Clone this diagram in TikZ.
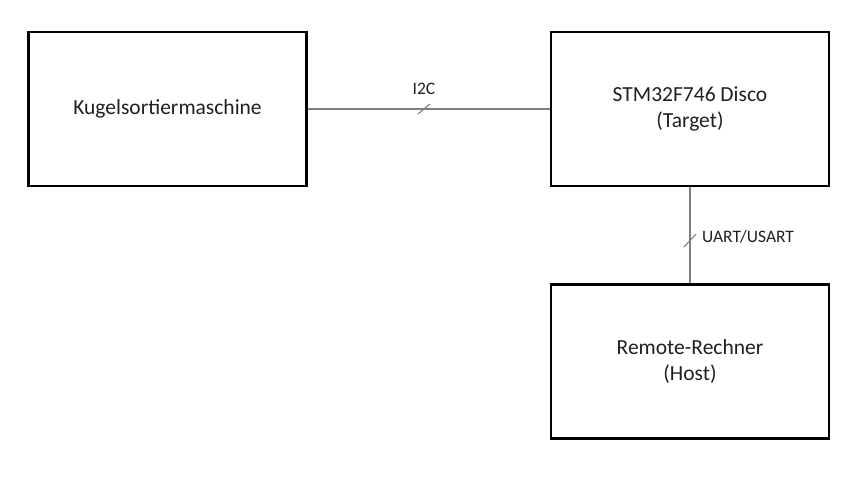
\documentclass[tikz,border=0pt]{standalone}
\usepackage{fontspec}
\setmainfont{Carlito}
\usetikzlibrary{calc}
\definecolor{textgray}{HTML}{202020}
\definecolor{linegray}{HTML}{7F7F7F}
\begin{document}
\begin{tikzpicture}[x=1pt,y=-1pt,
  box/.style={draw=black,line width=2.2pt,minimum width=278pt,minimum height=154pt,inner sep=0pt,align=center,font=\fontsize{21.5}{26.5}\selectfont,text=textgray},
  link/.style={draw=linegray,line width=1.6pt},
  slashmark/.style={draw=linegray,line width=1.1pt},
  lbl/.style={font=\fontsize{17.5}{21}\selectfont,text=textgray,inner sep=0pt}]
\useasboundingbox[fill=white] (0,0) rectangle (864,486);
\node[box] (kug) at (167.5,109) {Kugelsortiermaschine};
\node[box] (stm) at (690,109) {STM32F746 Disco\\(Target)};
\node[box] (host) at (690,361.5) {Remote-Rechner\\(Host)};
\draw[link] (kug.east) -- coordinate[pos=0.48] (m1) (stm.west);
\draw[link] (stm.south) -- coordinate[pos=0.56] (m2) (host.north);
\draw[slashmark] ($(m1)+(-6,5)$) -- ($(m1)+(6,-5)$);
\draw[slashmark] ($(m2)+(-6,6)$) -- ($(m2)+(6,-7)$);
\node[lbl,anchor=base] (i2c) at (424,95) {I2C};
\node[lbl,anchor=base west] (uart) at (702,243) {UART/USART};
\end{tikzpicture}
\end{document}
